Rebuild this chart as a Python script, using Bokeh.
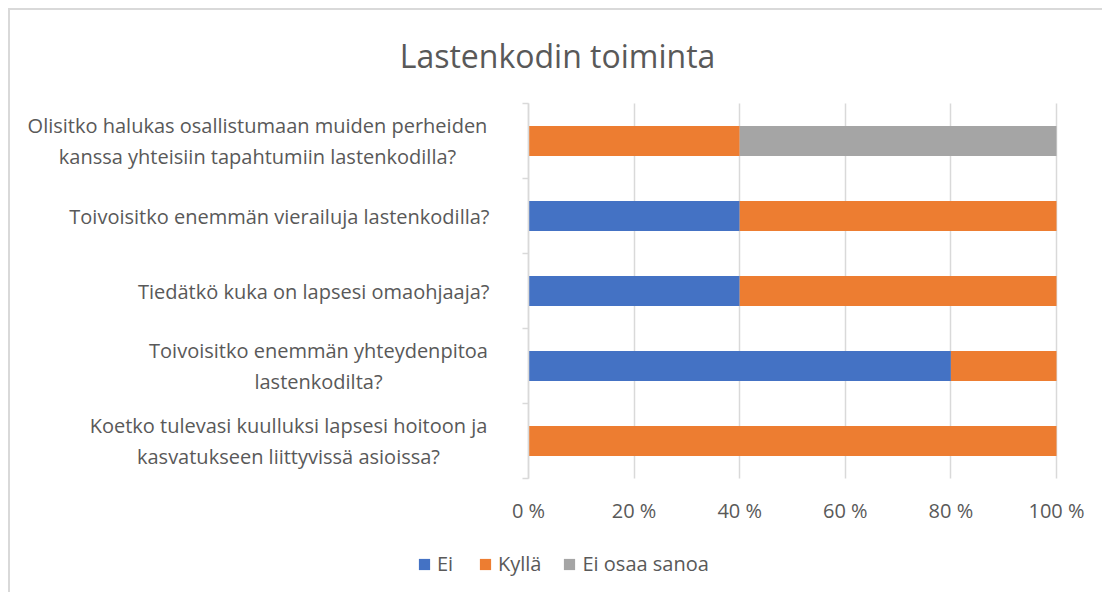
from bokeh.plotting import figure
from bokeh.models import ColumnDataSource, Legend, LegendItem, FixedTicker, Range1d, Label
from bokeh.core.properties import value
from bokeh.embed import file_html
from bokeh.resources import INLINE

title_text = "Lastenkodin toiminta"
questions = [
    "Olisitko halukas osallistumaan muiden perheiden\nkanssa yhteisiin tapahtumiin lastenkodilla?",
    "Toivoisitko enemmän vierailuja lastenkodilla?",
    "Tiedätkö kuka on lapsesi omaohjaaja?",
    "Toivoisitko enemmän yhteydenpitoa\nlastenkodilta?",
    "Koetko tulevasi kuulluksi lapsesi hoitoon ja\nkasvatukseen liittyvissä asioissa?",
]
series_names = ["Ei", "Kyllä", "Ei osaa sanoa"]
ei = [0, 40, 40, 80, 0]
kylla = [40, 60, 60, 20, 100]
eos = [60, 0, 0, 0, 0]
x_ticks = [0, 20, 40, 60, 80, 100]
x_tick_labels = ["0 %", "20 %", "40 %", "60 %", "80 %", "100 %"]

colors = ["#4472C4", "#ED7D31", "#A5A5A5"]
text_color = "#595959"
grid_color = "#d9d9d9"
FONT = "Open Sans"

# layout (pixels)
W, H = 1094, 584
TOP = 93               # top of the category block below canvas top
TITLE_Y = 45           # title centre below canvas top
AXIS_PX = 518          # value-axis origin from the canvas' left edge
PX_PER_100 = 528       # width of 0..100 %
ROW_PX = 75            # height of one category row
px = PX_PER_100 / 100.0

n = len(questions)
ypos = [n - 0.5 - i for i in range(n)]
source = ColumnDataSource(dict(y=ypos, ei=ei, kylla=kylla, eos=eos))

y_top = n + TOP / ROW_PX
p = figure(width=W, height=H, output_backend="svg", toolbar_location=None,
           x_range=Range1d(-AXIS_PX / px, (W - AXIS_PX) / px),
           y_range=Range1d(y_top - H / ROW_PX, y_top),
           min_border=0)
p.styles = {"margin-left": "8px", "margin-top": "8px",
            "border-top": "2px solid #d9d9d9", "border-left": "2px solid #d9d9d9"}
p.outline_line_color = None
p.background_fill_color = "white"
p.border_fill_color = "white"

renderers = p.hbar_stack(["ei", "kylla", "eos"], y="y", height=0.4, color=colors,
                         line_color=None, source=source)

# title, centred on the whole chart
p.add_layout(Label(x=(W / 2 - AXIS_PX) / px, y=y_top - TITLE_Y / ROW_PX, text=title_text,
                   text_align="center", text_baseline="middle", text_font=FONT,
                   text_font_size="32px", text_color=text_color))

# x axis, drawn at the bottom of the category block
xax = p.xaxis[0]
xax.fixed_location = 0
xax.ticker = FixedTicker(ticks=x_ticks)
xax.major_label_overrides = {t: l for t, l in zip(x_ticks, x_tick_labels)}
xax.axis_line_color = None
xax.major_tick_line_color = None
xax.minor_tick_line_color = None
xax.major_label_standoff = 12
xax.major_label_text_font = FONT
xax.major_label_text_font_size = "20px"
xax.major_label_text_color = text_color

grid = p.xgrid[0]
grid.grid_line_color = grid_color
grid.grid_line_width = 1.5
if "cross_bounds" in grid.properties():
    grid.cross_bounds = (0, n)
else:
    grid.visible = False
    p.segment(x0=x_ticks, x1=x_ticks, y0=[0] * len(x_ticks), y1=[n] * len(x_ticks),
              line_color=grid_color, line_width=1.5, level="underlay")

# category axis at value 0
yax = p.yaxis[0]
yax.fixed_location = 0
yax.bounds = (0, n)
yax.ticker = FixedTicker(ticks=list(range(n + 1)))
yax.major_label_text_color = None
yax.axis_line_color = grid_color
yax.axis_line_width = 1.5
yax.major_tick_line_color = grid_color
yax.major_tick_line_width = 1.5
yax.major_tick_out = 6
yax.major_tick_in = 0
yax.minor_tick_line_color = None
p.ygrid.grid_line_color = None

# category labels
two_line_center = {0: -271, 3: -210, 4: -240}
xoff, align = [], []
for i, q in enumerate(questions):
    if "\n" in q:
        xoff.append(two_line_center[i]); align.append("center")
    else:
        xoff.append(-39); align.append("right")
lab_src = ColumnDataSource(dict(x=[0] * n, y=ypos, text=questions, xoff=xoff, align=align))
p.text(x="x", y="y", text="text", x_offset="xoff", text_align="align", source=lab_src,
       text_baseline="middle", text_font=value(FONT), text_font_size="20px",
       text_color=text_color, text_line_height=1.15)

legend = Legend(items=[LegendItem(label=nm, renderers=[r]) for nm, r in zip(series_names, renderers)],
                location=(407, 17), orientation="horizontal")
legend.padding = 0
legend.margin = 0
legend.spacing = 21
legend.label_standoff = 6
legend.glyph_width = 14
legend.glyph_height = 14
legend.label_text_font = FONT
legend.label_text_font_size = "20px"
legend.label_text_color = text_color
legend.border_line_color = None
legend.background_fill_alpha = 0
p.add_layout(legend)

open("out.html", "w").write(file_html(p, INLINE))
